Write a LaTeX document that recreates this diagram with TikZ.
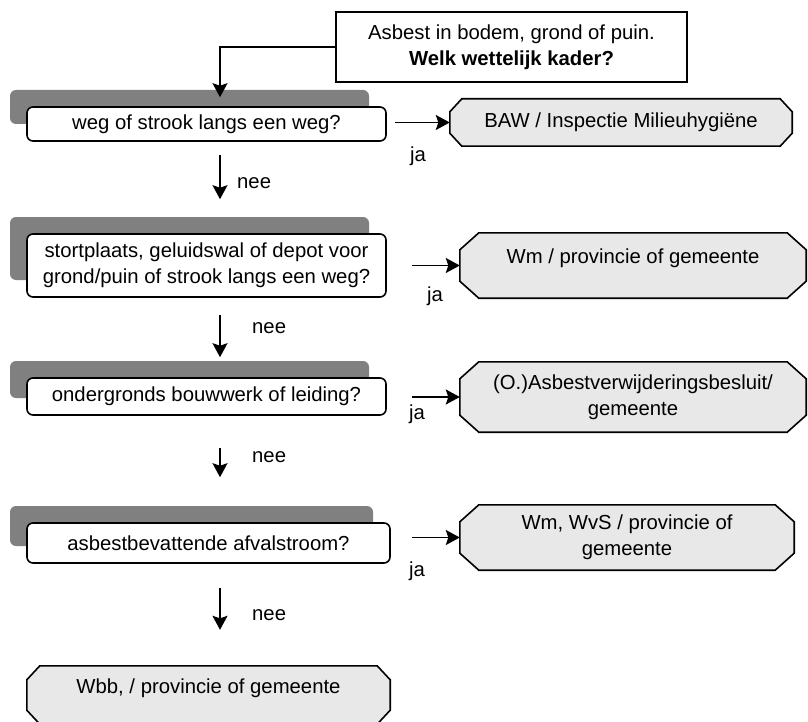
\documentclass[tikz,border=0pt]{standalone}
\usepackage{fontspec}
\setmainfont{Liberation Sans}
\usetikzlibrary{arrows.meta,shadows,backgrounds}

\definecolor{shadowgray}{RGB}{128,128,128}
\definecolor{outcomegray}{RGB}{232,232,232}

\tikzset{
  question/.style={draw, line width=1.6pt, rounded corners=6pt, fill=white,
    minimum width=359pt, inner sep=0pt, align=center,
    drop shadow={shadow xshift=-17pt, shadow yshift=17pt, fill=shadowgray, opacity=1}},
  outcome/.style={inner sep=0pt, align=center},
  arr/.style={line width=1.5pt, -{Stealth[length=14pt,width=15pt,inset=2.5pt]}},
  lbl/.style={inner sep=0pt},
}

% octagon behind an outcome node: name, chamfer x, chamfer y
\newcommand{\octbox}[3]{%
  \filldraw[fill=outcomegray, line width=1.6pt]
    ([xshift=#2]#1.north west) -- ([xshift=-#2]#1.north east)
    -- ([yshift=-#3]#1.north east) -- ([yshift=#3]#1.south east)
    -- ([xshift=-#2]#1.south east) -- ([xshift=#2]#1.south west)
    -- ([yshift=#3]#1.south west) -- ([yshift=-#3]#1.north west) -- cycle;}

\begin{document}
\begin{tikzpicture}[x=1pt, y=-1pt, every node/.style={font=\fontsize{20.3}{26}\selectfont}]
  \useasboundingbox (0,0) rectangle (808,722);

  % start
  \node[draw, line width=2pt, minimum width=351pt, minimum height=70pt, align=center] (start) at (511.5,47)
    {Asbest in bodem, grond of puin.\\ \textbf{Welk wettelijk kader?}};

  % questions
  \node[question, minimum height=34pt] (q1) at (206.5,124) {weg of strook langs een weg?};
  \node[question, minimum height=63pt] (q2) at (206.5,265.5)
    {stortplaats, geluidswal of depot voor\\ grond/puin of strook langs een weg?};
  \node[question, minimum height=37pt] (q3) at (206.5,396.5) {ondergronds bouwwerk of leiding?};
  \node[question, minimum height=40pt, minimum width=363pt] (q4) at (208.5,543) {asbestbevattende afvalstroom?};

  % outcomes
  \node[outcome, minimum width=342pt, minimum height=47pt] (a1) at (621,122.5) {BAW / Inspectie Milieuhygiëne};
  \node[outcome, minimum width=346pt, minimum height=65pt, text depth=18pt] (a2) at (633,265.5) {Wm / provincie of gemeente};
  \node[outcome, minimum width=346pt, minimum height=70pt] (a3) at (633,397) {(O.)Asbestverwijderingsbesluit/\\ gemeente};
  \node[outcome, minimum width=334pt, minimum height=65pt] (a4) at (627,537.5) {Wm, WvS / provincie of\\ gemeente};
  \node[outcome, minimum width=363pt, minimum height=58pt, text depth=18pt] (a5) at (208.5,695) {Wbb, / provincie of gemeente};

  \begin{scope}[on background layer]
    \foreach \n/\cx/\cy in {a1/12pt/13pt, a2/19pt/17pt, a3/19pt/17pt, a4/19pt/17pt, a5/13pt/14pt}
      {\octbox{\n}{\cx}{\cy}}
  \end{scope}

  % connectors
  \draw[arr] (start.west) -| ([xshift=13.5pt,yshift=9pt]q1.north);
  \draw[arr] ([xshift=13.5pt,yshift=-13pt]q1.south) -- ([xshift=13.5pt,yshift=34pt]q2.north);
  \draw[arr] ([xshift=13.5pt,yshift=-17pt]q2.south) -- ([xshift=13.5pt,yshift=20pt]q3.north);
  \draw[arr] ([xshift=13.5pt,yshift=-32pt]q3.south) -- ([xshift=11.5pt,yshift=45pt]q4.north);
  \draw[arr] ([xshift=11.5pt,yshift=-24pt]q4.south) -- ([xshift=11.5pt,yshift=36pt]a5.north);

  \draw[arr] ([xshift=-55pt]a1.west) -- (a1.west);
  \draw[arr] ([xshift=-48pt]a2.west) -- (a2.west);
  \draw[arr] ([xshift=-48pt]a3.west) -- (a3.west);
  \draw[arr] ([xshift=-48pt]a4.west) -- (a4.west);

  % labels
  \node[lbl, anchor=north west] (ja1) at (410,147) {ja};
  \node[lbl, anchor=north west] (ja2) at (427,287) {ja};
  \node[lbl, anchor=north west] (ja3) at (409,405) {ja};
  \node[lbl, anchor=north west] (ja4) at (409,562) {ja};
  \node[lbl, anchor=west] (nee1) at (237,183) {nee};
  \node[lbl, anchor=west] (nee2) at (252,328) {nee};
  \node[lbl, anchor=west] (nee3) at (252,457) {nee};
  \node[lbl, anchor=west] (nee4) at (252,615) {nee};
\end{tikzpicture}
\end{document}
